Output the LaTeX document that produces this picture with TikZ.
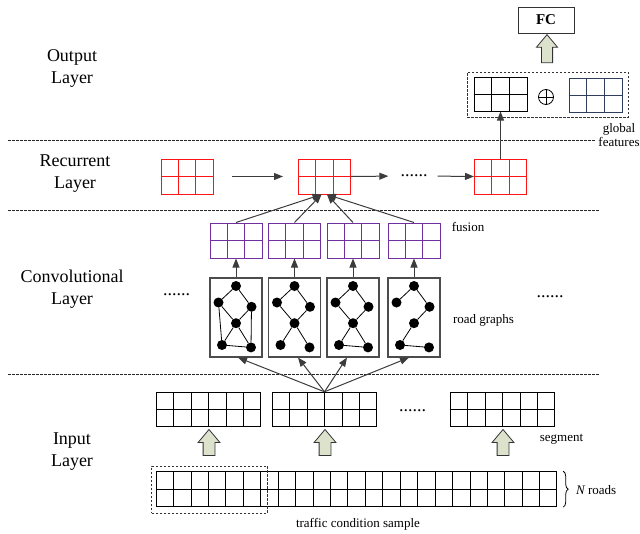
\documentclass[tikz,border=0pt]{standalone}
\usepackage{fontspec}
\setmainfont{Liberation Serif}
\usetikzlibrary{calc,shapes.arrows,decorations.pathreplacing,arrows.meta}
\definecolor{gridred}{RGB}{255,20,20}
\definecolor{gridpurple}{RGB}{112,48,160}
\definecolor{gridblue}{RGB}{47,62,92}
\definecolor{arrowfill}{RGB}{221,226,205}
\definecolor{linegray}{RGB}{60,60,60}

\newcommand{\cellgrid}[6]{% #1 name, #2 pos, #3 cols, #4 width, #5 height, #6 color
  \node[gridcell, draw=#6, minimum width=#4pt, minimum height=#5pt] (#1) at #2 {};
  \pgfmathtruncatemacro{\lastcol}{#3-1}
  \foreach \k in {1,...,\lastcol}{
    \draw[gridline, draw=#6] ($(#1.south west)!\k/#3!(#1.south east)$) -- ($(#1.north west)!\k/#3!(#1.north east)$);
  }
  \draw[gridline, draw=#6] (#1.west) -- (#1.east);
}
\newcommand{\roadnodes}[2]{% #1 prefix, #2 centre x
  \node[rnode] (#1t) at (#2,286) {};
  \node[rnode] (#1l) at (#2-17.5,302.5) {};
  \node[rnode] (#1r) at (#2+15.5,306.8) {};
  \node[rnode] (#1m) at (#2,323.2) {};
  \node[rnode] (#1a) at (#2-14,345) {};
  \node[rnode] (#1b) at (#2+15,347.4) {};
}

\begin{document}
\begin{tikzpicture}[x=1pt,y=-1pt,
  gridcell/.style={rectangle, inner sep=0pt, line width=1pt},
  gridline/.style={line width=1pt},
  layerlabel/.style={font=\fontsize{18}{22}\selectfont, align=center, inner sep=0pt},
  smalllabel/.style={font=\fontsize{13}{15}\selectfont, inner sep=0pt, align=center},
  dotslabel/.style={font=\fontsize{18}{20}\selectfont, inner sep=0pt},
  sepline/.style={dash pattern=on 2.5pt off 1.5pt, line width=0.7pt, black!85},
  conn/.style={linegray, line width=1pt, -{Triangle[length=9pt,width=7pt]}},
  gbox/.style={draw=black!70, line width=1.1pt, minimum width=52pt, minimum height=79pt, inner sep=0pt},
  rnode/.style={circle, fill=black, minimum size=10pt, inner sep=0pt},
  redge/.style={line width=0.8pt},
  bigarrow/.style={single arrow, draw=black!80, fill=arrowfill, line width=0.8pt, rotate=90,
    single arrow head extend=5pt, inner xsep=0pt, inner ysep=5.5pt, single arrow tip angle=80,
    minimum height=26pt},
]
\useasboundingbox (0,0) rectangle (640,533);

% separators
\draw[sepline] (8,140) -- (595,140);
\draw[sepline] (8,210) -- (600,210);
\draw[sepline] (8,374) -- (600,374);

% layer labels
\node[layerlabel] (lout) at (72,68) {Output\\Layer};
\node[layerlabel] (lrec) at (75,173.5) {Recurrent\\Layer};
\node[layerlabel] (lconv) at (72,289) {Convolutional\\Layer};
\node[layerlabel] (lin) at (72,452) {Input\\Layer};

% output layer
\node[draw=black!80, line width=1pt, minimum width=56pt, minimum height=26pt,
  font=\bfseries\fontsize{15}{18}\selectfont] (fc) at (546,20) {FC};
\node[bigarrow, minimum height=28pt, inner ysep=5.2pt] (fcarrow) at (547,52) {};
\node[draw=black!80, dash pattern=on 2.5pt off 1.5pt, line width=0.8pt, minimum width=161pt,
  minimum height=45pt, inner sep=0pt] (outbox) at (547.5,94.5) {};
\cellgrid{og1}{(500.5,94)}{3}{53}{34}{black}
\cellgrid{og2}{(595.5,95)}{3}{53}{34}{gridblue}
\node[circle, draw, minimum size=15pt, inner sep=0pt, line width=0.8pt] (plus) at (546,97) {};
\draw[line width=0.8pt] (plus.north) -- (plus.south) (plus.west) -- (plus.east);
\node[smalllabel] (glob) at (619,135.5) {global\\[-1pt]features};

% recurrent layer
\cellgrid{r1}{(187,176.5)}{3}{52}{35}{gridred}
\cellgrid{r2}{(324.5,176.5)}{3}{52}{35}{gridred}
\cellgrid{r3}{(500.5,176.5)}{3}{52}{35}{gridred}
\node[dotslabel] (rdots) at (414,176) {......};
\draw[conn] ([xshift=18pt]r1.east) -- ([xshift=-15pt]r2.west);
\draw[conn, shorten >=12pt] (r2.east) -- (rdots.west);
\draw[conn, shorten <=10pt] (rdots.east) -- (r3.west);
\draw[conn] (r3.north) -- (og1.south);

% convolutional layer
\foreach \n/\cx in {1/236,2/294.5,3/353,4/414}{
  \cellgrid{f\n}{(\cx,240.5)}{3}{52}{35}{gridpurple}
  \node[gbox] (b\n) at (\cx,317.5) {};
  \draw[conn] (b\n.north) -- (f\n.south);
}
\node[smalllabel] (fusionlbl) at (468,227) {fusion};
\node[smalllabel] (roadlbl) at (483.5,320) {road graphs};
\node[dotslabel] (cdots1) at (176.5,295) {......};
\node[dotslabel] (cdots2) at (550,297) {......};

\draw[conn] (f1.north) -- ([xshift=-3pt]r2.south);
\draw[conn] (f2.north) -- ([xshift=-3pt]r2.south);
\draw[conn] (f3.north) -- ([xshift=2.5pt]r2.south);
\draw[conn] (f4.north) -- ([xshift=2.5pt]r2.south);

% road graphs
\roadnodes{ga}{236}
\roadnodes{gb}{294.5}
\roadnodes{gc}{353}
\roadnodes{gd}{414}
\draw[redge] (gat)--(gal) (gat)--(gar) (gal)--(gam) (gar)--(gam) (gam)--(gaa) (gam)--(gab)
  (gal)--(gaa) (gar)--(gab) (gaa)--(gab);
\draw[redge] (gbt)--(gbl) (gbt)--(gbr) (gbl)--(gbm) (gbr)--(gbm) (gbm)--(gba) (gbm)--(gbb);
\draw[redge] (gct)--(gcl) (gct)--(gcr) (gcl)--(gcm) (gcr)--(gcm) (gcm)--(gca) (gcm)--(gcb)
  (gca)--(gcb);
\draw[redge] (gdt)--(gdl) (gdt)--(gdr) (gdr)--(gdm) (gdm)--(gda) (gda)--(gdb);

% input layer
\cellgrid{s1}{(208.7,409.5)}{6}{104}{34.4}{black}
\cellgrid{s2}{(324.5,409.5)}{6}{104}{34.4}{black}
\cellgrid{s3}{(502.5,409.5)}{6}{104}{34.4}{black}
\node[dotslabel] (idots) at (412.5,411) {......};
\draw[conn] (s2.north) -- ([xshift=2pt]b1.south);
\draw[conn] (s2.north) -- ([xshift=3.5pt]b2.south);
\draw[conn] (s2.north) -- ([xshift=-6pt]b3.south);
\draw[conn] (s2.north) -- ([xshift=-5pt]b4.south);

\node[bigarrow] (a1) at (209,446) {};
\node[bigarrow] (a2) at (325,446) {};
\node[bigarrow] (a3) at (503,446) {};
\node[smalllabel] (seglbl) at (561.5,439) {segment};

\cellgrid{sample}{(356.7,489.2)}{23}{400}{35}{black}
\node[draw=black!80, dash pattern=on 2.5pt off 1.5pt, line width=0.8pt, minimum width=115.6pt,
  minimum height=47.3pt, inner sep=0pt] (firstseg) at (209.5,489.7) {};
\draw[line width=0.8pt, decorate, decoration={brace, amplitude=5pt}]
  ([xshift=6pt]sample.north east) -- ([xshift=6pt]sample.south east) coordinate[midway, xshift=6pt] (bracetip);
\node[smalllabel, anchor=west] (nroads) at (576,490) {\itshape N\upshape\ roads};
\node[smalllabel] (samplelbl) at (358,524) {traffic condition sample};
\end{tikzpicture}
\end{document}
